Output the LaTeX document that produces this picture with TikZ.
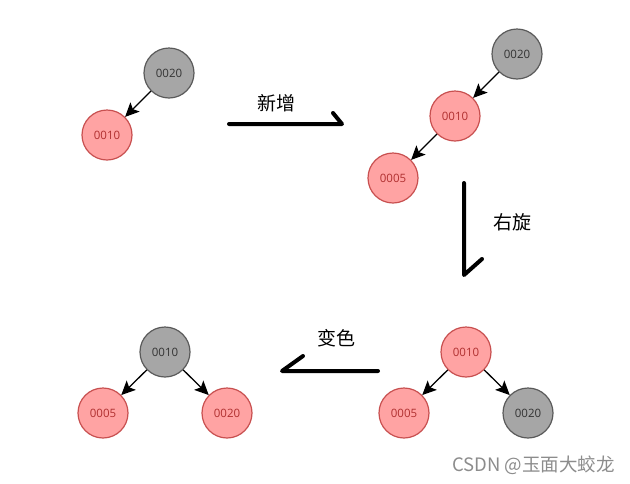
\documentclass[tikz,border=0pt]{standalone}
\usepackage{fontspec}
\setmainfont{Open Sans}
\newfontfamily\cjk{Noto Sans CJK SC}
\usetikzlibrary{arrows.meta}
\definecolor{gfill}{HTML}{A6A6A6}
\definecolor{gdraw}{HTML}{5A5A5A}
\definecolor{rfill}{HTML}{FFA3A3}
\definecolor{rdraw}{HTML}{C85050}
\definecolor{rtext}{HTML}{B03030}
\definecolor{gtext}{HTML}{333333}
\tikzset{
  blk/.style={circle, minimum size=50pt, inner sep=0pt, fill=gfill, draw=gdraw, line width=1.2pt, text=gtext, font=\fontsize{11.5}{12}\selectfont},
  rd/.style={circle, minimum size=50pt, inner sep=0pt, fill=rfill, draw=rdraw, line width=1.2pt, text=rtext, font=\fontsize{11.5}{12}\selectfont},
  edge/.style={line width=1.3pt, -{Stealth[length=14pt,width=13pt,inset=3pt]}},
  bigarrow/.style={line width=4pt, line cap=round, line join=round},
  lbl/.style={font=\cjk\fontsize{19}{21}\selectfont, inner sep=0pt},
}
\begin{document}
\begin{tikzpicture}[x=1pt,y=-1pt]
\useasboundingbox (0,0) rectangle (630,483);
% top-left tree
\node[blk] (a20) at (169,73) {0020};
\node[rd] (a10) at (107,135) {0010};
\draw[edge] (a20) -- (a10);
% arrow 1
\coordinate (p1s) at (229,124);
\coordinate (p1e) at (342,124);
\coordinate (p1h) at (333,113);
\draw[bigarrow] (p1s) -- (p1e) -- (p1h);
\node[lbl] (l1) at (276,103) {新增};
% top-right tree
\node[blk] (b20) at (517,54) {0020};
\node[rd] (b10) at (455,116) {0010};
\node[rd] (b05) at (393,178) {0005};
\draw[edge] (b20) -- (b10);
\draw[edge] (b10) -- (b05);
% arrow 2
\coordinate (p2s) at (464,183);
\coordinate (p2e) at (464,275);
\coordinate (p2h) at (482,259);
\draw[bigarrow] (p2s) -- (p2e) -- (p2h);
\node[lbl] (l2) at (512,222) {右旋};
% bottom-right tree
\node[rd] (c10) at (466,352) {0010};
\node[rd] (c05) at (404,413) {0005};
\node[blk] (c20) at (528,413) {0020};
\draw[edge] (c10) -- (c05);
\draw[edge] (c10) -- (c20);
% arrow 3
\coordinate (p3s) at (378,371);
\coordinate (p3e) at (282,371);
\coordinate (p3h) at (303,356);
\draw[bigarrow] (p3s) -- (p3e) -- (p3h);
\node[lbl] (l3) at (336,338) {变色};
% bottom-left tree
\node[blk] (d10) at (165,352) {0010};
\node[rd] (d05) at (103,413) {0005};
\node[rd] (d20) at (227,413) {0020};
\draw[edge] (d10) -- (d05);
\draw[edge] (d10) -- (d20);
% watermark
\node[font=\cjk\fontsize{18.5}{20}\selectfont, text=black!45, anchor=east, inner sep=0pt] (wm) at (615,465) {CSDN @玉面大蛟龙};
\end{tikzpicture}
\end{document}
